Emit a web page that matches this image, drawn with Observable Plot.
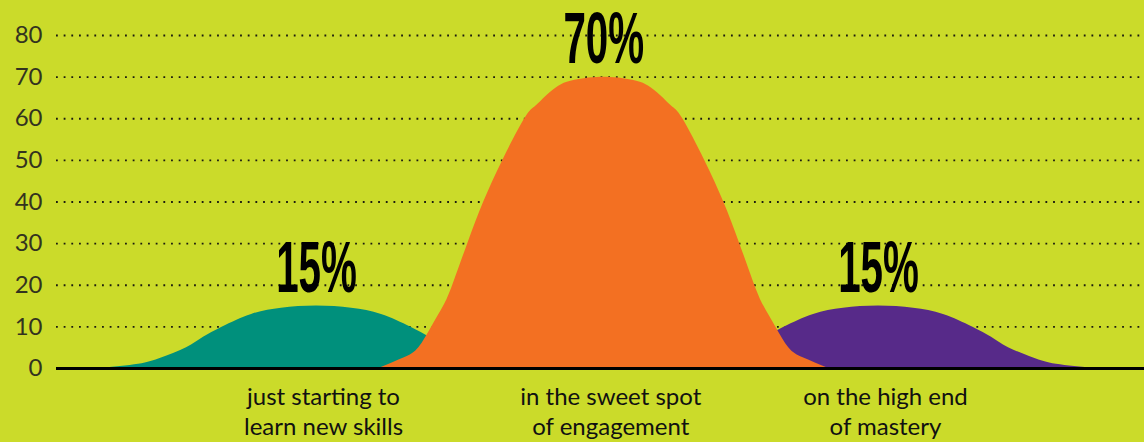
<!DOCTYPE html>
<html>
<head>
<meta charset="utf-8">
<script src="https://cdn.jsdelivr.net/npm/d3@7"></script>
<script src="https://cdn.jsdelivr.net/npm/@observablehq/plot@0.6"></script>
<style>
  html, body { margin: 0; padding: 0; background: #cbdb2a; }
  #chart { width: 1144px; height: 442px; overflow: hidden; }
</style>
</head>
<body>
<div id="chart"></div>
<script>
// Gridline ticks of the share axis (percent of people)
const yTicks = [0, 10, 20, 30, 40, 50, 60, 70, 80];

// The three groups, their share and where each curve peaks on the skill axis (0–100)
const groups = ["just starting to\nlearn new skills", "in the sweet spot\nof engagement", "on the high end\nof mastery"];
const shares = [15, 70, 15];
const peakAt = [23.9, 50.3, 75.55];
const colors = ["#00907c", "#f37022", "#572a89"];

// Curve outlines: skill level (x) and share (y)
const startingX = [3.86, 7.54, 9.65, 11.95, 13.51, 15.26, 17.93, 20.68, 23.9, 27.12, 29.87, 32.54, 34.29, 35.85, 38.15, 40.26, 43.94];
const startingY = [0, 1, 2.5, 5, 7.5, 10, 13, 14.5, 15, 14.5, 13, 10, 7.5, 5, 2.5, 1, 0];

const sweetX = [29.62, 31.92, 33.3, 34.49, 35.59, 36.42, 37.8, 39.27, 41.02, 43.04, 44.05, 45.06, 46.16, 47.27, 48.92, 50.3, 51.68, 53.33, 54.44, 55.54, 56.55, 57.56, 59.58, 61.33, 62.8, 64.18, 65.01, 66.11, 67.3, 68.68, 70.98];
const sweetY = [0, 2.5, 5, 10, 15, 20, 30, 40, 50, 60, 63, 65.5, 67.8, 69, 69.8, 70, 69.8, 69, 67.8, 65.5, 63, 60, 50, 40, 30, 20, 15, 10, 5, 2.5, 0];

const masteryX = [55.51, 59.19, 61.3, 63.6, 65.16, 66.91, 69.58, 72.33, 75.55, 78.77, 81.52, 84.19, 85.94, 87.5, 89.8, 91.91, 95.59];
const masteryY = [0, 1, 2.5, 5, 7.5, 10, 13, 14.5, 15, 14.5, 13, 10, 7.5, 5, 2.5, 1, 0];

const toRows = (xs, ys) => xs.map((x, i) => ({x, y: ys[i]}));

const area = (xs, ys, fill) =>
  Plot.areaY(toRows(xs, ys), {x: "x", y: "y", fill, curve: "natural"});

const chart = Plot.plot({
  width: 1144,
  height: 442,
  marginLeft: 56,
  marginRight: 0,
  marginTop: 35,
  marginBottom: 74,
  style: {background: "transparent", fontFamily: "Lato, 'Open Sans', sans-serif", overflow: "visible"},
  x: {domain: [0, 100], axis: null},
  y: {domain: [0, 80], axis: null},
  marks: [
    Plot.ruleY(yTicks.filter(v => v > 0), {stroke: "#1b1b10", strokeWidth: 1.8, strokeDasharray: "1.8 5.87"}),
    Plot.axisY(yTicks, {tickSize: 0, tickPadding: 14, fontSize: 24, fill: "#33331f", label: null}),
    area(startingX, startingY, colors[0]),
    area(masteryX, masteryY, colors[2]),
    area(sweetX, sweetY, colors[1]),
    Plot.ruleY([0], {stroke: "#000", strokeWidth: 3}),
    Plot.text(groups, {
      x: peakAt, y: shares, text: shares.map(s => s + "%"),
      lineAnchor: "bottom", dy: -14,
      fontFamily: "'Liberation Sans', Arial, sans-serif",
      fontWeight: 700, fontSize: 72, fill: "#000"
    }),
    Plot.text(groups, {
      x: peakAt, y: 0, text: d => d,
      lineAnchor: "top", dy: 15, dx: 7, lineHeight: 1.25,
      fontSize: 24, fill: "#111", fontFamily: "Lato, 'Open Sans', sans-serif"
    })
  ]
});

document.getElementById("chart").appendChild(chart);

// Squeeze the big percentage figures horizontally into a condensed display style
chart.querySelectorAll("text").forEach(t => {
  if (!/%$/.test(t.textContent.trim())) return;
  const tr = t.getAttribute("transform") || "";
  const x = t.getAttribute("x"), y = t.getAttribute("y");
  t.removeAttribute("x"); t.removeAttribute("y");
  t.setAttribute("transform", `${tr} translate(${+x || 0},${+y || 0}) scale(0.56,1)`);
});
</script>
</body>
</html>
